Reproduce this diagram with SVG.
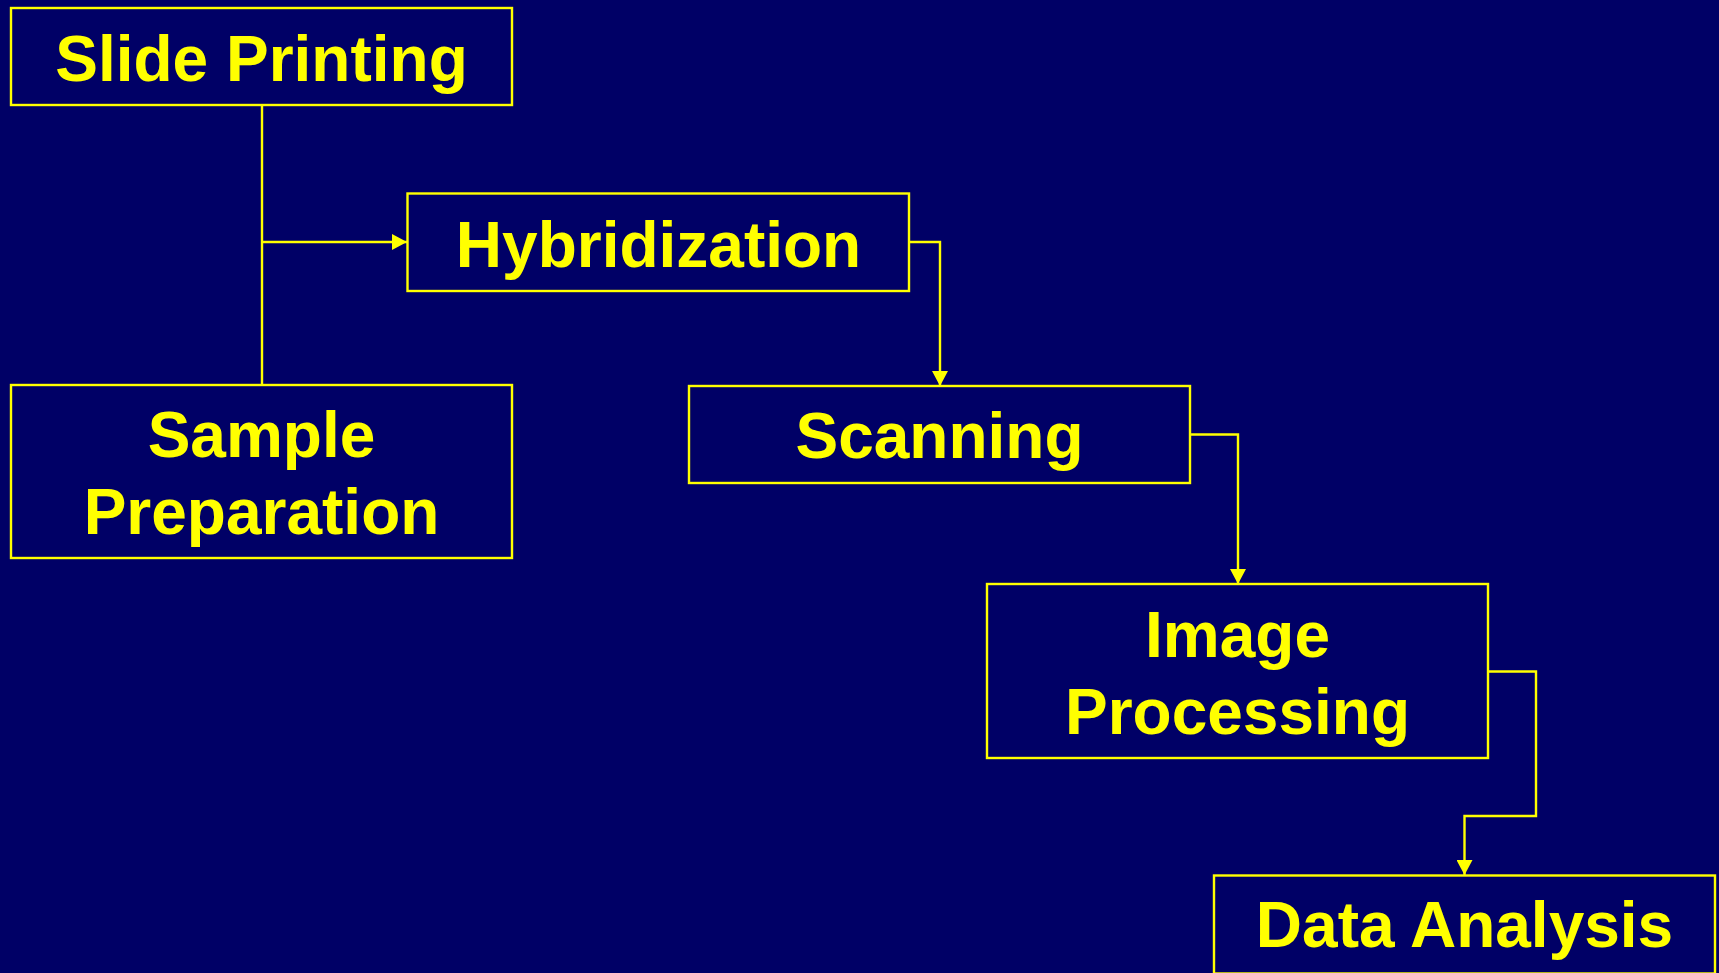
<svg xmlns="http://www.w3.org/2000/svg" width="1719" height="973" viewBox="0 0 1719 973">
<style>
.box{fill:#000066;stroke:#FFFF00;stroke-width:2.4}
.lbl{font-family:"Liberation Sans",Arial,sans-serif;font-weight:bold;font-size:64px;fill:#FFFF00;text-anchor:middle}
.con{fill:none;stroke:#FFFF00;stroke-width:2.4}
</style>
<defs>
<marker id="arr" markerUnits="userSpaceOnUse" markerWidth="16" markerHeight="16" refX="15" refY="8" orient="auto">
<path d="M0,0 L15,8 L0,16 z" fill="#FFFF00"/>
</marker>
</defs>
<rect width="1719" height="973" fill="#000066"/>
<g id="connectors">
<path class="con" d="M262,105 V385"/>
<path class="con" d="M262,242 H407" marker-end="url(#arr)"/>
<path class="con" d="M909,242 H940 V386" marker-end="url(#arr)"/>
<path class="con" d="M1190,434.5 H1238 V584" marker-end="url(#arr)"/>
<path class="con" d="M1488,671.5 H1536 V816 H1464.5 V875" marker-end="url(#arr)"/>
</g>
<g id="slide-printing">
<rect class="box" x="11" y="8" width="501" height="97"/>
<text class="lbl" x="261.5" y="80.7">Slide Printing</text>
</g>
<g id="sample-preparation">
<rect class="box" x="11" y="385" width="501" height="173"/>
<text class="lbl" x="261.5" y="457.3">Sample</text>
<text class="lbl" x="261.5" y="534.3">Preparation</text>
</g>
<g id="hybridization">
<rect class="box" x="407.5" y="193.5" width="501.5" height="97.5"/>
<text class="lbl" x="658.5" y="266.7">Hybridization</text>
</g>
<g id="scanning">
<rect class="box" x="689" y="386" width="501" height="97"/>
<text class="lbl" x="939.5" y="458.3">Scanning</text>
</g>
<g id="image-processing">
<rect class="box" x="987" y="584" width="501" height="174"/>
<text class="lbl" x="1237.5" y="657.3">Image</text>
<text class="lbl" x="1237.5" y="734">Processing</text>
</g>
<g id="data-analysis">
<rect class="box" x="1214" y="875.5" width="501" height="98"/>
<text class="lbl" x="1464.5" y="946.7">Data Analysis</text>
</g>
</svg>
